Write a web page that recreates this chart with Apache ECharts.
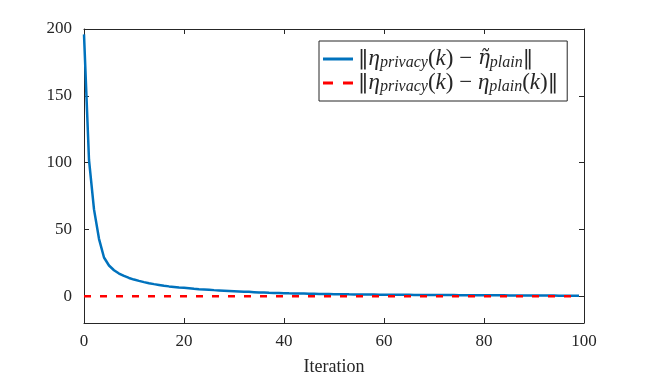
<!DOCTYPE html>
<html>
<head>
<meta charset="utf-8">
<title>Iteration error</title>
<script src="https://cdn.jsdelivr.net/npm/echarts@6/dist/echarts.min.js"></script>
<style>
  html, body { margin: 0; padding: 0; background: #fff; }
  #chart { width: 646px; height: 378px; }
</style>
</head>
<body>
<div id="chart"></div>
<script>
// 数据
var xTicks = [0, 20, 40, 60, 80, 100];
var yTicks = [0, 50, 100, 150, 200];
var seriesNames = ['privacyVsPlainFixed', 'privacyVsPlainK'];
var errPlainFixed = [
  196, 102, 65, 43, 29, 23, 19.5, 17, 15.2, 13.7,
  12.5, 11.5, 10.6, 9.8, 9.1, 8.5, 7.9, 7.4, 7.0, 6.6,
  6.3, 6.0, 5.6, 5.3, 5.1, 4.9, 4.6, 4.4, 4.2, 4.0,
  3.8, 3.6, 3.4, 3.3, 3.1, 2.9, 2.8, 2.6, 2.5, 2.4,
  2.3, 2.2, 2.15, 2.05, 2.0, 1.9, 1.85, 1.75, 1.7, 1.65,
  1.6, 1.55, 1.5, 1.45, 1.42, 1.38, 1.35, 1.3, 1.27, 1.23,
  1.2, 1.17, 1.14, 1.12, 1.09, 1.06, 1.03, 1.0, 0.98, 0.96,
  0.95, 0.93, 0.9, 0.88, 0.86, 0.84, 0.82, 0.8, 0.78, 0.77,
  0.75, 0.73, 0.71, 0.7, 0.68, 0.66, 0.64, 0.62, 0.6, 0.58,
  0.55, 0.54, 0.52, 0.5, 0.49, 0.47, 0.45, 0.44, 0.42, 0.4
];
var errPlainK = [
  0, 0, 0, 0, 0, 0, 0, 0, 0, 0,
  0, 0, 0, 0, 0, 0, 0, 0, 0, 0,
  0, 0, 0, 0, 0, 0, 0, 0, 0, 0,
  0, 0, 0, 0, 0, 0, 0, 0, 0, 0,
  0, 0, 0, 0, 0, 0, 0, 0, 0, 0,
  0, 0, 0, 0, 0, 0, 0, 0, 0, 0,
  0, 0, 0, 0, 0, 0, 0, 0, 0, 0,
  0, 0, 0, 0, 0, 0, 0, 0, 0, 0,
  0, 0, 0, 0, 0, 0, 0, 0, 0, 0,
  0, 0, 0, 0, 0, 0, 0, 0, 0, 0
];

function pairs(arr) {
  return arr.map(function (v, i) { return [i, v]; });
}

var FONT = '"Liberation Serif", "DejaVu Serif", serif';
var AX = '#262626';

// legend 公式 (富文本)
var legendText = {
  privacyVsPlainFixed: '{bar|‖}{it|η}{sub|privacy}{rm|(}{it|k}{rm|) − }{tl|η̃}{sub|plain}{bar|‖}',
  privacyVsPlainK: '{bar|‖}{it|η}{sub|privacy}{rm|(}{it|k}{rm|) − }{it|η}{sub|plain}{rm|(}{it|k}{rm|)}{bar|‖}'
};

var axisCommon = {
  type: 'value',
  axisLine: { show: true, onZero: false, lineStyle: { color: AX, width: 1 } },
  axisTick: { show: true, inside: true, length: 5, lineStyle: { color: AX } },
  splitLine: { show: false },
  axisLabel: { color: AX, fontFamily: FONT, fontSize: 17 }
};

var myChart = echarts.init(document.getElementById('chart'));
myChart.setOption({
  animation: false,
  backgroundColor: '#fff',
  grid: { left: 84, right: 62, top: 29, bottom: 55, outerBoundsMode: 'none' },
  legend: {
    orient: 'vertical',
    left: 319,
    top: 41,
    itemWidth: 30,
    itemHeight: 3,
    itemGap: 0,
    padding: [6, 9, 6, 4],
    borderColor: AX,
    borderWidth: 1,
    backgroundColor: '#fff',
    data: [
      { name: seriesNames[0], icon: 'path://M0,0H30V3H0Z' },
      { name: seriesNames[1], icon: 'path://M0,0H10V3H0Z M20,0H30V3H20Z' }
    ],
    formatter: function (name) { return legendText[name]; },
    textStyle: {
      color: AX,
      rich: {
        bar: { fontFamily: '"DejaVu Serif", serif', fontSize: 21, lineHeight: 20, color: AX },
        rm: { fontFamily: FONT, fontSize: 23, lineHeight: 20, color: AX },
        it: { fontFamily: FONT, fontStyle: 'italic', fontSize: 23, lineHeight: 20, color: AX },
        tl: { fontFamily: '"DejaVu Serif", serif', fontStyle: 'italic', fontSize: 20, lineHeight: 20, color: AX },
        sub: { fontFamily: FONT, fontStyle: 'italic', fontSize: 16, lineHeight: 13, padding: [8, 0, 0, 0], color: AX }
      }
    }
  },
  xAxis: [
    Object.assign({}, axisCommon, {
      min: 0, max: 100, interval: 20,
      name: 'Iteration',
      nameLocation: 'middle',
      nameGap: 35,
      nameTextStyle: { color: AX, fontFamily: FONT, fontSize: 18 },
      axisLabel: { color: AX, fontFamily: FONT, fontSize: 17, margin: 10 }
    }),
    Object.assign({}, axisCommon, {
      position: 'top', min: 0, max: 100, interval: 20,
      axisLabel: { show: false }
    })
  ],
  yAxis: [
    Object.assign({}, axisCommon, {
      min: -20, max: 200,
      axisLabel: {
        color: AX, fontFamily: FONT, fontSize: 17, margin: 12,
        customValues: yTicks
      },
      axisTick: { show: true, inside: true, length: 5, lineStyle: { color: AX }, customValues: yTicks }
    }),
    Object.assign({}, axisCommon, {
      position: 'right', min: -20, max: 200,
      axisLabel: { show: false, customValues: yTicks },
      axisTick: { show: true, inside: true, length: 5, lineStyle: { color: AX }, customValues: yTicks }
    })
  ],
  series: [
    {
      name: seriesNames[0],
      type: 'line',
      showSymbol: false,
      symbol: 'none',
      data: pairs(errPlainFixed),
      lineStyle: { color: '#0072BD', width: 2.5 },
      itemStyle: { color: '#0072BD' },
      z: 2
    },
    {
      name: seriesNames[1],
      type: 'line',
      showSymbol: false,
      symbol: 'none',
      data: pairs(errPlainK),
      lineStyle: { color: '#FF0000', width: 2.5, type: [7, 9] },
      itemStyle: { color: '#FF0000' },
      z: 3
    }
  ]
});
</script>
</body>
</html>
